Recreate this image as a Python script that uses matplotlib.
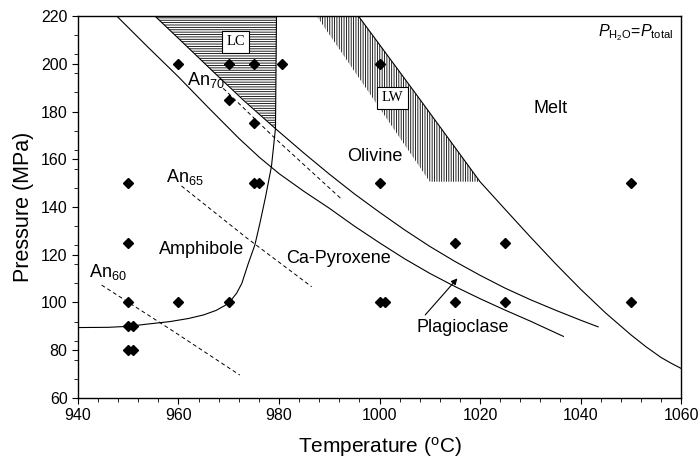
import numpy as np
import matplotlib
matplotlib.use("Agg")
import matplotlib.pyplot as plt
from matplotlib.ticker import FixedLocator

plt.rcParams['font.family'] = ['Liberation Sans', 'DejaVu Sans']
plt.rcParams['mathtext.fontset'] = 'custom'
plt.rcParams['mathtext.rm'] = 'Liberation Sans'
plt.rcParams['mathtext.it'] = 'Liberation Sans:italic'
plt.rcParams['hatch.linewidth'] = 0.6

# experimental run conditions (T in C, P in MPa)
run_temp = [960, 970, 975, 980.5, 1000, 970, 975, 950, 975, 976, 1000, 1050,
            950, 1015, 1025, 950, 960, 970, 1000, 1001, 1015, 1025, 1050,
            950, 951, 950, 951]
run_pres = [200, 200, 200, 200, 200, 185, 175, 150, 150, 150, 150, 150,
            125, 125, 125, 100, 100, 100, 100, 100, 100, 100, 100,
            90, 90, 80, 80]

# phase boundaries
amph_t = [940, 946, 950, 954, 958.3, 962, 965, 967.5, 969.3, 970.6, 971.6, 972.6,
          973.9, 975.2, 976.2, 977.3, 978.5, 979.3, 979.5]
amph_p = [89.5, 89.6, 90.0, 91.0, 92.0, 93.3, 94.8, 96.7, 98.8, 101.3, 104.0, 108.0,
          116.4, 124.1, 133.2, 144.0, 157.0, 173.0, 220]

cpx_t = [947.7, 954, 960, 966, 972, 976, 980, 985, 990, 995, 1000, 1005,
         1010, 1015, 1020, 1025, 1030, 1036.6]
cpx_p = [220, 206.8, 194.5, 181.5, 168.8, 161, 154, 146.5, 139.5, 132, 125, 118.3,
         112.2, 106.7, 101.6, 96.8, 92.2, 85.8]

plag_t = [955.3, 961, 967, 973, 979.2, 985, 990, 995, 1000, 1005, 1010, 1015,
          1020, 1025, 1030, 1035, 1040, 1043.5]
plag_p = [220, 208.6, 196.5, 184.6, 173, 162.5, 153.8, 145.5, 137.8, 130.4, 123.5,
          117.2, 111.4, 106, 101.2, 96.8, 92.6, 89.8]

melt_t = [995.8, 1008, 1020, 1025, 1030, 1035, 1040, 1045, 1050, 1053, 1056, 1058, 1060]
melt_p = [220, 185.2, 150.6, 139, 127.5, 116.3, 105.6, 95.6, 86.5, 81.5, 77, 74.6, 72.4]

# anorthite isopleths
an70_t = [968.9, 979.2, 992.5]
an70_p = [189.7, 168.8, 143.2]
an65_t = [960.6, 973.6, 986.5]
an65_p = [148.8, 127.0, 106.6]
an60_t = [944.7, 958.5, 972.2]
an60_p = [107.3, 88.6, 69.6]

# hatched fields
lc_t = [955.3, 967, 979.3, 979.5]
lc_p = [220, 196.5, 173, 220]
lw_t = [987.5, 1010, 1020, 995.8]
lw_p = [220, 150.6, 150.6, 220]

fig = plt.figure(figsize=(7, 4.68), dpi=100)
ax = fig.add_axes([0.1114, 0.1496, 0.8615, 0.8162])

ax.fill(lc_t, lc_p, facecolor='none', edgecolor='k', hatch='-------', lw=0, zorder=1)
ax.fill(lw_t, lw_p, facecolor='none', edgecolor='k', hatch='|||||||', lw=0, zorder=1)

for t, p in [(amph_t, amph_p), (cpx_t, cpx_p), (plag_t, plag_p), (melt_t, melt_p)]:
    ax.plot(t, p, color='k', lw=0.8, zorder=2)
for t, p in [(an70_t, an70_p), (an65_t, an65_p), (an60_t, an60_p)]:
    ax.plot(t, p, color='k', lw=0.7, ls=(0, (4, 3)), zorder=2)

ax.plot(run_temp, run_pres, 'D', color='k', ms=5.2, ls='none', zorder=3)

box = dict(boxstyle='square,pad=0.3', fc='white', ec='k', lw=0.8)
ax.text(971.4, 209.2, 'LC', family='Liberation Serif', fontsize=10.5,
        ha='center', va='center', bbox=box, zorder=4)
ax.text(1002.6, 185.8, 'LW', family='Liberation Serif', fontsize=10.5,
        ha='center', va='center', bbox=box, zorder=4)

fs = 13
ax.text(961.7, 191.1, 'An$_{70}$', fontsize=fs, va='baseline')
ax.text(957.5, 150.6, 'An$_{65}$', fontsize=fs, va='baseline')
ax.text(942.1, 110.8, 'An$_{60}$', fontsize=fs, va='baseline')
ax.text(964.6, 122.0, 'Amphibole', fontsize=fs, ha='center', va='center')
ax.text(991.9, 118.3, 'Ca-Pyroxene', fontsize=fs, ha='center', va='center')
ax.text(999.1, 161.2, 'Olivine', fontsize=fs, ha='center', va='center')
ax.text(1034.1, 181.3, 'Melt', fontsize=fs, ha='center', va='center')
ax.text(1016.5, 89.4, 'Plagioclase', fontsize=fs, ha='center', va='center')
ax.annotate('', xy=(1015.5, 110.1), xytext=(1009.1, 94.8),
            arrowprops=dict(arrowstyle='-|>', color='k', lw=0.8,
                            mutation_scale=9, shrinkA=0, shrinkB=0))
ax.text(1058.5, 211.6, r'$P_{\mathrm{H_2O}}$=$P_{\mathrm{total}}$',
        fontsize=11.5, ha='right', va='baseline')

ax.set_xlim(940, 1060)
ax.set_ylim(60, 220)
ax.set_xticks(np.arange(940, 1061, 20))
ax.set_yticks(np.arange(60, 221, 20))
ax.xaxis.set_minor_locator(FixedLocator(np.arange(940, 1061, 4)))
ax.yaxis.set_minor_locator(FixedLocator(np.arange(60, 221, 8)))
ax.tick_params(which='major', direction='out', length=4, width=0.8, labelsize=11.5)
ax.tick_params(which='minor', direction='out', length=3, width=0.6)
for s in ax.spines.values():
    s.set_linewidth(1.0)

ax.set_xlabel('Temperature ($^{\\mathrm{o}}$C)', fontsize=15, labelpad=8)
ax.set_ylabel('Pressure (MPa)', fontsize=15.5, labelpad=5)

fig.savefig('out.png', dpi=100)
